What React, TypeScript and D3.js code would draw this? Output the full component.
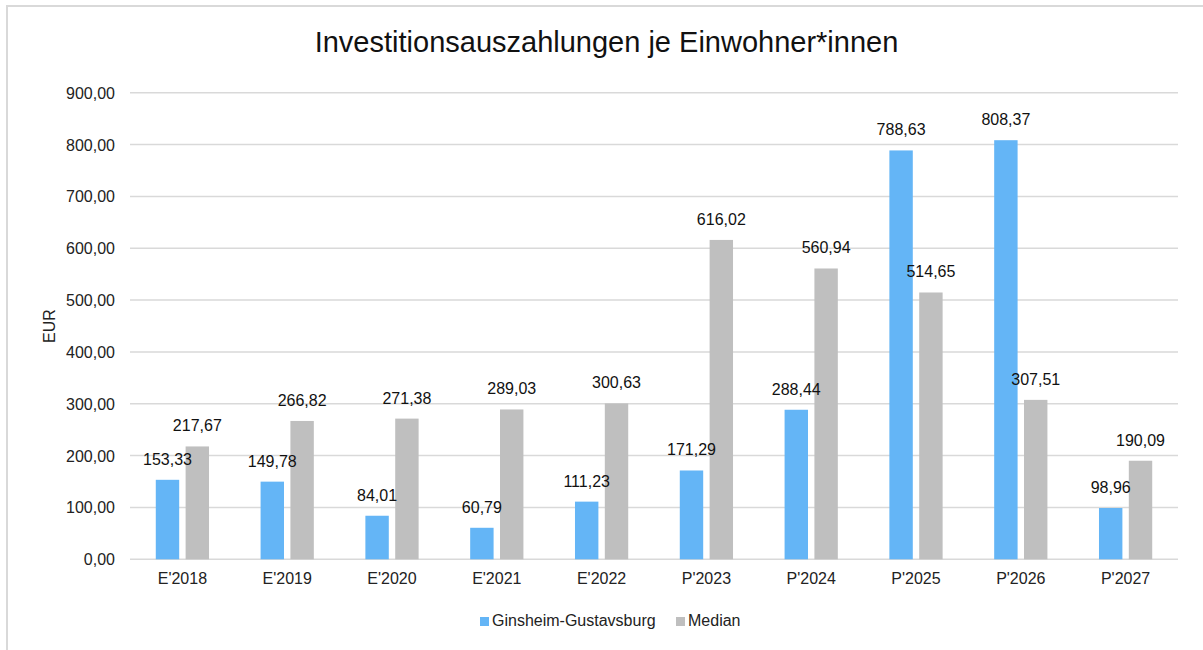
import React, { useRef, useEffect } from "react";
import * as d3 from "d3";

const categories = ["E'2018", "E'2019", "E'2020", "E'2021", "E'2022", "P'2023", "P'2024", "P'2025", "P'2026", "P'2027"];
const seriesNames = ["Ginsheim-Gustavsburg", "Median"];
const ginsheim = [153.33, 149.78, 84.01, 60.79, 111.23, 171.29, 288.44, 788.63, 808.37, 98.96];
const median = [217.67, 266.82, 271.38, 289.03, 300.63, 616.02, 560.94, 514.65, 307.51, 190.09];
const yTicks = [0, 100, 200, 300, 400, 500, 600, 700, 800, 900];
const colors = ["#64b5f6", "#bfbfbf"];

const FONT = "'Liberation Sans', Arial, sans-serif";

const fmt = (v: number) => v.toFixed(2).replace(".", ",");

export default function App() {
  const ref = useRef<SVGSVGElement>(null);

  useEffect(() => {
    const svg = d3.select(ref.current);
    svg.selectAll("*").remove();

    const width = 1203;
    const height = 650;
    const left = 130;
    const right = 1178;
    const top = 92.7;
    const bottom = 559.3;

    svg.attr("width", width).attr("height", height);

    // outer frame
    svg.append("rect")
      .attr("x", 7).attr("y", 6)
      .attr("width", width + 10).attr("height", height + 10)
      .attr("fill", "#fff")
      .attr("stroke", "#d9d9d9")
      .attr("stroke-width", 2);

    const x0 = d3.scaleBand().domain(categories).range([left, right]);
    const bw = x0.bandwidth();
    const x1 = d3.scaleBand()
      .domain(seriesNames)
      .range([bw * 0.246, bw * 0.754])
      .paddingInner(0.215);
    const y = d3.scaleLinear().domain([0, 900]).range([bottom, top]);

    // gridlines
    svg.append("g")
      .selectAll("line")
      .data(yTicks)
      .enter()
      .append("line")
      .attr("x1", left).attr("x2", right)
      .attr("y1", (d) => y(d)).attr("y2", (d) => y(d))
      .attr("stroke", "#d9d9d9")
      .attr("stroke-width", 1.5);

    // y tick labels
    svg.append("g")
      .selectAll("text")
      .data(yTicks)
      .enter()
      .append("text")
      .attr("x", 115)
      .attr("y", (d) => y(d) + 6)
      .attr("text-anchor", "end")
      .style("font-family", FONT)
      .style("font-size", "16px")
      .style("fill", "#222")
      .text((d) => fmt(d));

    // y axis title
    svg.append("text")
      .attr("transform", `translate(55,${(top + bottom) / 2}) rotate(-90)`)
      .attr("text-anchor", "middle")
      .style("font-family", FONT)
      .style("font-size", "16px")
      .style("fill", "#222")
      .text("EUR");

    const rows = categories.map((c, i) => ({
      cat: c,
      values: [ginsheim[i], median[i]],
    }));

    const groups = svg.append("g")
      .selectAll("g")
      .data(rows)
      .enter()
      .append("g")
      .attr("transform", (d) => `translate(${x0(d.cat)},0)`);

    groups.selectAll("rect")
      .data((d) => d.values.map((v, j) => ({ v, s: seriesNames[j], j })))
      .enter()
      .append("rect")
      .attr("x", (d) => x1(d.s)!)
      .attr("width", x1.bandwidth())
      .attr("y", (d) => y(d.v))
      .attr("height", (d) => y(0) - y(d.v))
      .attr("fill", (d) => colors[d.j]);

    groups.selectAll("text")
      .data((d) => d.values.map((v, j) => ({ v, s: seriesNames[j] })))
      .enter()
      .append("text")
      .attr("x", (d) => x1(d.s)! + x1.bandwidth() / 2)
      .attr("y", (d) => y(d.v) - 15)
      .attr("text-anchor", "middle")
      .style("font-family", FONT)
      .style("font-size", "16px")
      .style("fill", "#111")
      .text((d) => fmt(d.v));

    // category labels
    svg.append("g")
      .selectAll("text")
      .data(categories)
      .enter()
      .append("text")
      .attr("x", (d) => x0(d)! + bw / 2)
      .attr("y", 584)
      .attr("text-anchor", "middle")
      .style("font-family", FONT)
      .style("font-size", "16px")
      .style("fill", "#222")
      .text((d) => d);

    // title
    svg.append("text")
      .attr("x", 606.5)
      .attr("y", 52)
      .attr("text-anchor", "middle")
      .style("font-family", FONT)
      .style("font-size", "29px")
      .style("fill", "#111")
      .text("Investitionsauszahlungen je Einwohner*innen");

    // legend
    const legendX = [480, 676];
    const legend = svg.append("g")
      .selectAll("g")
      .data(seriesNames)
      .enter()
      .append("g")
      .attr("transform", (d, i) => `translate(${legendX[i]},617)`);
    legend.append("rect")
      .attr("width", 9).attr("height", 9)
      .attr("fill", (d, i) => colors[i]);
    legend.append("text")
      .attr("x", 12).attr("y", 9)
      .style("font-family", FONT)
      .style("font-size", "16px")
      .style("fill", "#222")
      .text((d) => d);
  }, []);

  return <svg ref={ref} style={{ position: "absolute", left: 0, top: 0 }}></svg>;
}
